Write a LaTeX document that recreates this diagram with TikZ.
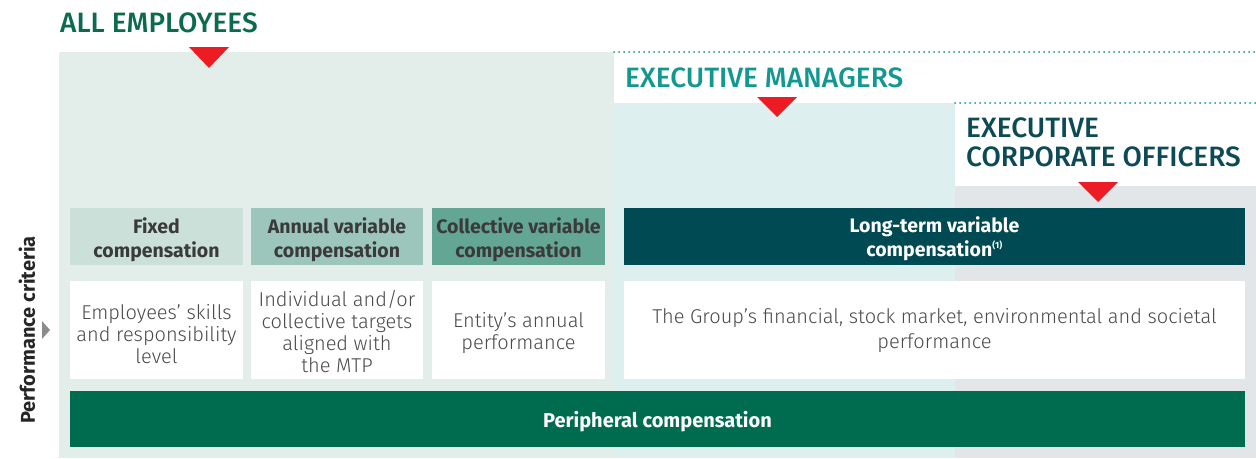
\documentclass[tikz,border=0pt]{standalone}
\usepackage{fontspec}
\setmainfont{Fira Sans}
\newfontfamily\lightfont{Fira Sans Light}
\newfontfamily\medfont{Fira Sans Medium}
\usetikzlibrary{positioning}
\definecolor{allbg}{HTML}{E3EDE9}
\definecolor{mgrbg}{HTML}{DDEFEF}
\definecolor{ecobg}{HTML}{E2E6E9}
\definecolor{titlegreen}{HTML}{0B6B4F}
\definecolor{titleteal}{HTML}{139891}
\definecolor{titledark}{HTML}{0C4A55}
\definecolor{arrowred}{HTML}{ED1C24}
\definecolor{fixedc}{HTML}{CAE0D9}
\definecolor{annualc}{HTML}{9CC6BB}
\definecolor{collc}{HTML}{62A693}
\definecolor{longc}{HTML}{004A53}
\definecolor{perc}{HTML}{006C4F}
\definecolor{headtxt}{HTML}{3A3A3A}
\definecolor{bodytxt}{HTML}{4A4A4A}
\definecolor{arrgray}{HTML}{8C8C8C}
\tikzset{
  headbox/.style={inner sep=0pt, minimum height=57pt},
  headtext/.style={inner sep=0pt, align=center, text=headtxt,
    font=\fontsize{19.5}{24}\selectfont\bfseries},
  bodybox/.style={fill=white, inner sep=0pt, minimum height=98pt},
  bodytext/.style={inner sep=0pt, align=center, text=bodytxt,
    font=\lightfont\fontsize{20}{22}\selectfont},
  grouptitle/.style={anchor=base west, inner sep=0pt, align=left,
    font=\medfont\fontsize{28}{28}\selectfont},
  redtri/.style={fill=arrowred},
  dotline/.style={titleteal, line width=2pt, line cap=round, dash pattern=on 0pt off 5pt}
}
\begin{document}
\begin{tikzpicture}[x=1pt,y=-1pt]
\useasboundingbox (0,0) rectangle (1256,458);
% zone backgrounds
\fill[allbg] (59,52) rectangle (614,458);
\fill[mgrbg] (614,103) rectangle (955,458);
\fill[ecobg] (955,186) rectangle (1256,458);
% dotted separators
\draw[dotline] (614,52) -- (1256,52);
\draw[dotline] (955,103) -- (1256,103);
% titles
\node[grouptitle, text=titlegreen] (tall) at (60,32) {ALL EMPLOYEES};
\node[grouptitle, text=titleteal] (tmgr) at (625,87) {EXECUTIVE MANAGERS};
\node[grouptitle, text=titledark, anchor=north west, font=\medfont\fontsize{28}{29}\selectfont] (teco) at (966,118) {EXECUTIVE\\CORPORATE OFFICERS};
% red triangles
\fill[redtri] (189,47) -- (229,47) -- (209,68) -- cycle;
\fill[redtri] (757,97) -- (797,97) -- (777,117) -- cycle;
\fill[redtri] (1078,182) -- (1118,182) -- (1098,202) -- cycle;
% header boxes
\node[headbox, fill=fixedc, minimum width=173pt] (hfix) at (156.5,236.5) {};
\node[headbox, fill=annualc, minimum width=172pt] (hann) at (337,236.5) {};
\node[headbox, fill=collc, minimum width=173pt] (hcol) at (518.5,236.5) {};
\node[headbox, fill=longc, minimum width=621pt] (hlong) at (934.5,236.5) {};
\node[headtext] (hfixt) at ([yshift=-3pt]hfix.center) {Fixed\\compensation};
\node[headtext] (hannt) at ([yshift=-3pt]hann.center) {Annual variable\\compensation};
\node[headtext] (hcolt) at ([yshift=-3pt]hcol.center) {Collective variable\\compensation};
\node[headtext, text=white] (hlongt) at ([yshift=-2pt]hlong.center) {Long-term variable\\compensation\textsuperscript{\fontsize{9}{9}\selectfont(1)}};
% body boxes
\node[bodybox, minimum width=173pt] (bfix) at (156.5,330) {};
\node[bodybox, minimum width=172pt] (bann) at (337,330) {};
\node[bodybox, minimum width=173pt] (bcol) at (518.5,330) {};
\node[bodybox, minimum width=621pt] (blong) at (934.5,330) {};
\node[bodytext] (bfixt) at ([yshift=-4pt]bfix.center) {Employees’ skills\\and responsibility\\level};
\node[bodytext] (bannt) at ([yshift=-2pt]bann.center) {Individual and/or\\collective targets\\aligned with\\the MTP};
\node[bodytext] (bcolt) at ([yshift=-3pt]bcol.center) {Entity’s annual\\performance};
\node[bodytext, font=\lightfont\fontsize{20}{25}\selectfont] (blongt) at ([yshift=-1pt]blong.center) {The Group’s financial, stock market, environmental and societal\\performance};
% peripheral
\node[fill=perc, inner sep=0pt, minimum width=1175pt, minimum height=56pt] (per) at (657.5,419) {};
\node[inner sep=0pt, text=white, font=\fontsize{20}{22}\selectfont\bfseries] (pert) at ([yshift=-3pt]per.center) {Peripheral compensation};
% performance criteria
\node[rotate=90, inner sep=0pt, text=black!85, font=\fontsize{20}{22}\selectfont\bfseries] (perf) at (27,330) {Performance criteria};
\fill[arrgray] (42,321) -- (50,330) -- (42,339) -- cycle;
\end{tikzpicture}
\end{document}
